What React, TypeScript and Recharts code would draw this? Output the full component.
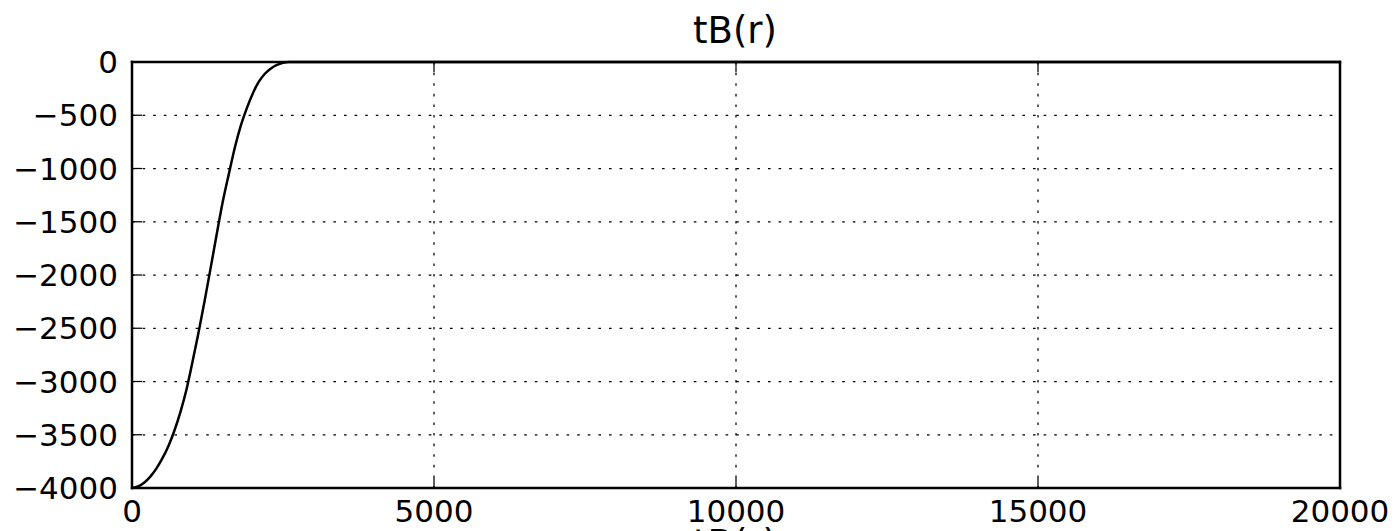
import React from 'react';
import { LineChart, Line, XAxis, YAxis, CartesianGrid } from 'recharts';

// radius r and tB(r)
const rValues = [0, 100, 200, 300, 400, 500, 600, 700, 800, 900, 1000, 1100, 1200, 1300, 1400, 1500, 1600, 1700, 1800, 1900, 2000, 2100, 2200, 2300, 2400, 2500, 2600, 20000];
const tbValues = [-4000, -3985, -3950, -3895, -3820, -3725, -3610, -3465, -3290, -3080, -2820, -2545, -2250, -1940, -1625, -1320, -1060, -810, -600, -435, -295, -185, -110, -60, -27, -8, 0, 0];

const xTicks = [0, 5000, 10000, 15000, 20000];
const yTicks = [-4000, -3500, -3000, -2500, -2000, -1500, -1000, -500, 0];

const titleText = 'tB(r)';
const xLabelText = 'tB(r)';

const data = rValues.map((r, i) => ({ r, tb: tbValues[i] }));

const W = 1397;
const H = 580;
const FONT = '"DejaVu Sans", sans-serif';

if (typeof document !== 'undefined') {
  document.documentElement.style.overflow = 'hidden';
  document.body.style.overflow = 'hidden';
  document.body.style.margin = '0';
}

const axisLine = { stroke: '#000', strokeWidth: 2.5, strokeLinecap: 'square' as const };
const tickLine = { stroke: '#000', strokeWidth: 1.25 };
const tickStyle = { fill: '#000', fontSize: 31, fontFamily: FONT };
const emptyTick = () => <g />;
// typographic minus for negative tick values
const fmt = (v: number) => (v < 0 ? '\u2212' + String(Math.abs(v)) : String(v));

export default function App() {
  return (
    <div style={{ position: 'relative', width: W, height: H, background: '#fff' }}>
      <LineChart
        width={W}
        height={H}
        data={data}
        margin={{ top: 61, right: 56, bottom: 52, left: 32 }}
      >
        <CartesianGrid
          stroke="#000"
          strokeWidth={1.25}
          strokeDasharray="2.6 8"
          horizontalValues={yTicks}
          verticalValues={xTicks}
        />
        <XAxis
          dataKey="r"
          type="number"
          domain={[0, 20000]}
          ticks={xTicks}
          interval={0}
          height={40}
          axisLine={axisLine}
          tickLine={tickLine}
          tickSize={-10}
          tickMargin={22}
          tick={tickStyle}
          tickFormatter={fmt}
        />
        <XAxis
          xAxisId="top"
          orientation="top"
          dataKey="r"
          type="number"
          domain={[0, 20000]}
          ticks={xTicks}
          interval={0}
          height={1}
          axisLine={axisLine}
          tickLine={tickLine}
          tickSize={-10}
          tick={emptyTick}
        />
        <YAxis
          type="number"
          domain={[-4000, 0]}
          ticks={yTicks}
          interval={0}
          width={100}
          axisLine={axisLine}
          tickLine={tickLine}
          tickSize={-10}
          tickMargin={24}
          tick={tickStyle}
          tickFormatter={fmt}
        />
        <YAxis
          yAxisId="right"
          orientation="right"
          type="number"
          domain={[-4000, 0]}
          ticks={yTicks}
          interval={0}
          width={1}
          axisLine={axisLine}
          tickLine={tickLine}
          tickSize={-10}
          tick={emptyTick}
        />
        <Line
          dataKey="tb"
          type="monotone"
          stroke="#000"
          strokeWidth={2.5}
          dot={false}
          activeDot={false}
          isAnimationActive={false}
        />
      </LineChart>
      <svg
        width={W}
        height={H}
        style={{ position: 'absolute', left: 0, top: 0, pointerEvents: 'none' }}
      >
        <text x={735} y={43} textAnchor="middle" fontSize={37} fontFamily={FONT} fill="#000">
          {titleText}
        </text>
        <text x={735} y={556} textAnchor="middle" fontSize={37} fontFamily={FONT} fill="#000">
          {xLabelText}
        </text>
      </svg>
    </div>
  );
}
